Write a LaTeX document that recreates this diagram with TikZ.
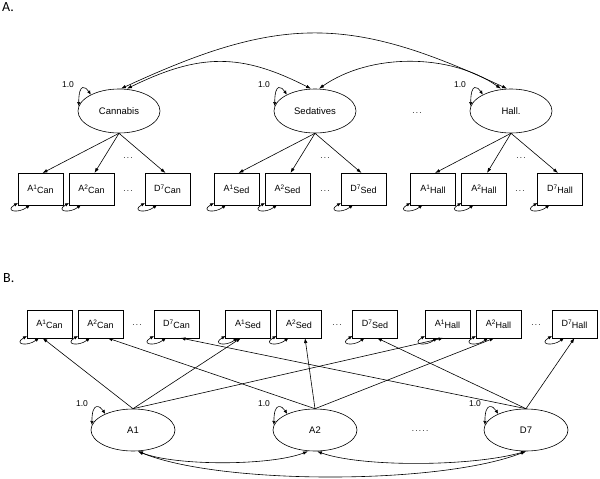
\documentclass[tikz,border=0pt]{standalone}
\usepackage{fontspec}
\setmainfont{Liberation Sans}
\newfontfamily\panelfont{Carlito}
\usepackage{tikz}
\usetikzlibrary{shapes.geometric, arrows.meta, positioning}
\newcommand{\itemlab}[3]{#1\raisebox{2.2pt}{\fontsize{6.5}{7}\selectfont #2}\raisebox{-2pt}{#3}}

\begin{document}
\begin{tikzpicture}[
    x=1pt, y=-1pt,
    node distance=6pt,
    latent/.style={ellipse, draw, line width=0.6pt, minimum width=82pt, minimum height=44pt, inner sep=0pt, font=\fontsize{9.5}{11}\selectfont},
    item/.style={rectangle, draw, line width=0.6pt, minimum width=45pt, minimum height=32pt, inner sep=1pt, outer sep=0pt, font=\fontsize{9}{11}\selectfont},
    arrow/.style={-{Latex[length=5pt,width=3.5pt]}, line width=0.6pt},
    cov/.style={{Latex[length=5pt,width=3.5pt]}-{Latex[length=5pt,width=3.5pt]}, line width=0.6pt},
    selfcov/.style={{Latex[length=4pt,width=3.5pt]}-{Latex[length=4pt,width=3.5pt]}, line width=0.6pt},
    dots/.style={font=\fontsize{8}{10}\selectfont, inner sep=0pt},
    fixed/.style={font=\fontsize{8.5}{10}\selectfont, inner sep=0pt},
    panel/.style={font=\panelfont\fontsize{14}{16}\selectfont, anchor=west, inner sep=0pt}
]
    \useasboundingbox (0,0) rectangle (600,479);

    % panel A
    \node [panel] (pa) at (2,7.5) {A.};
    \node [latent] (can) at (119,111) {Cannabis};
    \node [latent] (sed) at (315,111) {Sedatives};
    \node [latent] (hall) at (511,111) {Hall.};
    \node [dots] (dlat) at (417,113) {.\,.\,.};

    \node [item] (a1can) at (40.5,189) {\itemlab{A}{1}{Can}};
    \node [item, right=of a1can] (a2can) {\itemlab{A}{2}{Can}};
    \node [item, right=31pt of a2can] (d7can) {\itemlab{D}{7}{Can}};
    \node [item] (a1sed) at (236.5,189) {\itemlab{A}{1}{Sed}};
    \node [item, right=of a1sed] (a2sed) {\itemlab{A}{2}{Sed}};
    \node [item, right=31pt of a2sed] (d7sed) {\itemlab{D}{7}{Sed}};
    \node [item] (a1hall) at (433,189) {\itemlab{A}{1}{Hall}};
    \node [item, right=of a1hall] (a2hall) {\itemlab{A}{2}{Hall}};
    \node [item, right=31pt of a2hall] (d7hall) {\itemlab{D}{7}{Hall}};
    \node [dots] (dcan) at (128,191) {.\,.\,.};
    \node [dots] (dsed) at (325,191) {.\,.\,.};
    \node [dots] (dhall) at (520,191) {.\,.\,.};
    \node [dots] (ucan) at (128,158) {.\,.\,.};
    \node [dots] (used) at (325,158) {.\,.\,.};
    \node [dots] (uhall) at (521,158) {.\,.\,.};

    \draw [arrow] (can.south) -- ([xshift=2pt]a1can.north);
    \draw [arrow] (can.south) -- ([xshift=3pt]a2can.north);
    \draw [arrow] (can.south) -- ([xshift=-2pt]d7can.north);
    \draw [arrow] (sed.south) -- ([xshift=2pt]a1sed.north);
    \draw [arrow] (sed.south) -- ([xshift=3pt]a2sed.north);
    \draw [arrow] (sed.south) -- ([xshift=-2pt]d7sed.north);
    \draw [arrow] (hall.south) -- ([xshift=2pt]a1hall.north);
    \draw [arrow] (hall.south) -- ([xshift=3pt]a2hall.north);
    \draw [arrow] (hall.south) -- ([xshift=-2pt]d7hall.north);

    \draw [cov] ([xshift=2pt]can.north) .. controls (280,15) and (350,15) .. ([xshift=-4pt]hall.north);
    \draw [cov] ([xshift=8pt]can.north) .. controls (200,53) and (241,53) .. ([xshift=-4pt]sed.north);
    \draw [cov] ([xshift=4pt]sed.north) .. controls (370,53) and (450,53) .. ([xshift=-10pt]hall.north);

    % panel B
    \node [panel] (pb) at (3,278) {B.};
    \node [latent, minimum width=84pt, minimum height=42pt] (fa1) at (133,430) {A1};
    \node [latent, minimum width=84pt, minimum height=42pt] (fa2) at (315,430) {A2};
    \node [latent, minimum width=84pt, minimum height=42pt] (fd7) at (526,430) {D7};
    \node [dots] (dfac) at (420,431) {.\,.\,.\,.\,.};

    \node [item, minimum height=28pt] (ba1can) at (49.5,324) {\itemlab{A}{1}{Can}};
    \node [item, minimum height=28pt, right=of ba1can] (ba2can) {\itemlab{A}{2}{Can}};
    \node [item, minimum height=28pt, right=31pt of ba2can] (bd7can) {\itemlab{D}{7}{Can}};
    \node [item, minimum height=28pt] (ba1sed) at (248,324) {\itemlab{A}{1}{Sed}};
    \node [item, minimum height=28pt, right=of ba1sed] (ba2sed) {\itemlab{A}{2}{Sed}};
    \node [item, minimum height=28pt, right=31pt of ba2sed] (bd7sed) {\itemlab{D}{7}{Sed}};
    \node [item, minimum height=28pt] (ba1hall) at (447.5,324) {\itemlab{A}{1}{Hall}};
    \node [item, minimum height=28pt, right=of ba1hall] (ba2hall) {\itemlab{A}{2}{Hall}};
    \node [item, minimum height=28pt, right=31pt of ba2hall] (bd7hall) {\itemlab{D}{7}{Hall}};
    \node [dots] (bdcan) at (137,325) {.\,.\,.};
    \node [dots] (bdsed) at (337,325) {.\,.\,.};
    \node [dots] (bdhall) at (536,325) {.\,.\,.};

    \draw [arrow] (fa1.north) -- ([xshift=-7pt]ba1can.south);
    \draw [arrow] (fa1.north) -- ([xshift=-7pt]ba1sed.south);
    \draw [arrow] (fa1.north) -- ([xshift=-4pt]ba1hall.south);
    \draw [arrow] (fa2.north) -- ([xshift=7pt]ba2can.south);
    \draw [arrow] (fa2.north) -- ([xshift=6pt]ba2sed.south);
    \draw [arrow] (fa2.north) -- ([xshift=-4pt]ba2hall.south);
    \draw [arrow] (fd7.north) -- ([xshift=4pt]bd7can.south);
    \draw [arrow] (fd7.north) -- ([xshift=2pt]bd7sed.south);
    \draw [arrow] (fd7.north) -- (bd7hall.south);

    \draw [cov] ([xshift=5pt]fa1.south) .. controls (175,466) and (270,466) .. ([xshift=-7pt]fa2.south);
    \draw [cov] ([xshift=5pt]fa1.south) .. controls (220,485) and (440,485) .. (fd7.south);
    \draw [cov] ([xshift=2pt]fa2.south) .. controls (360,467) and (470,467) .. (fd7.south);

    % variances
    \foreach \l in {can,sed,hall,fa1,fa2,fd7} {
        \draw [selfcov] (\l.150) .. controls +(-5,-8) and +(0,-24) .. (\l.173);
        \node [fixed] (v\l) at ([shift={(-51,-26)}]\l.center) {1.0};
    }
    \foreach \b in {a1can,a2can,d7can,a1sed,a2sed,d7sed,a1hall,a2hall,d7hall,ba1can,ba2can,bd7can,ba1sed,ba2sed,bd7sed,ba1hall,ba2hall,bd7hall}
        \draw [selfcov] ([shift={(0,-2)}]\b.south west) .. controls +(-14,8) and +(-12,9) .. ([shift={(12,0)}]\b.south west);
\end{tikzpicture}
\end{document}
